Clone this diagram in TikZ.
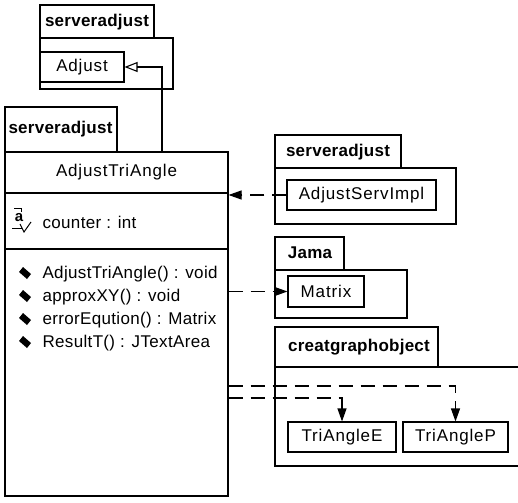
\documentclass[tikz,border=0pt]{standalone}
\usepackage{fontspec}
\setmainfont{Liberation Sans}
\newfontfamily\memberfont[LetterSpace=2]{Liberation Sans}
\newfontfamily\boxfont[LetterSpace=5]{Liberation Sans}
\newfontfamily\pkgfont[LetterSpace=1.5]{Liberation Sans}
\usetikzlibrary{arrows.meta}
\begin{document}
\begin{tikzpicture}[x=1pt,y=-1pt,
  line width=1.1pt,
  txt/.style={font=\memberfont\fontsize{17}{19}\selectfont, inner sep=0pt},
  pkgname/.style={font=\pkgfont\bfseries\fontsize{17}{19}\selectfont, inner sep=0pt},
  box/.style={draw, rectangle, inner sep=0pt, font=\boxfont\fontsize{17}{19}\selectfont},
  dep/.style={dash pattern=on 14pt off 8pt, -{Triangle[length=13pt,width=9pt]}},
  gen/.style={-{Triangle[open,length=13pt,width=10pt]}},
  bullet/.style={fill=black, draw=none}
]
\useasboundingbox (0,0) rectangle (518,502);

% package serveradjust holding Adjust
\draw (40,38) rectangle (154,5);
\node[pkgname] (pkgA) at (97,22) {serveradjust};
\draw (40,38) rectangle (173,89);
\node[box, minimum width=84pt, minimum height=30pt] (adj) at (82,67) {Adjust};

% package serveradjust holding AdjustTriAngle
\draw (5,152) rectangle (117,107);
\node[pkgname, anchor=west] (pkgB) at (8,129) {serveradjust};
\node[draw, rectangle, minimum width=223pt, minimum height=344pt, inner sep=0pt] (cls) at (116.5,324) {};
\draw (cls.west |- 0,193) -- (cls.east |- 0,193);
\draw (cls.west |- 0,249) -- (cls.east |- 0,249);
\node[box, draw=none] (clsname) at (116.5,172) {AdjustTriAngle};

% attribute with its visibility icon
\node[font=\bfseries\fontsize{15}{15}\selectfont, inner sep=0pt] (icon) at (19,218) {a};
\draw[line width=1pt] (14,209) -- (21,209) -- (21,212);
\draw[line width=1pt] (12,228) -- (22,228);
\draw[line width=1pt] (20,224) -- (24,232) -- (31,222);
\node[txt, anchor=west] (attr) at (42,222) {counter : int};

% operations
\foreach \yy/\name/\lbl in {274/op1/{AdjustTriAngle() : void},
                            297/op2/{approxXY() : void},
                            320/op3/{errorEqution() : Matrix},
                            343/op4/{ResultT() : JTextArea}} {
  \fill[bullet] (19,\yy-2) -- (23,\yy-7) -- (31,\yy) -- (27,\yy+5) -- cycle;
  \node[txt, anchor=west] (\name) at (42,\yy) {\lbl};
}

% package serveradjust holding AdjustServImpl
\draw (275,168) rectangle (401,135);
\node[pkgname] (pkgC) at (338,152) {serveradjust};
\draw (275,168) rectangle (456,224);
\node[box, minimum width=149pt, minimum height=30pt] (impl) at (361.5,195) {AdjustServImpl};

% package Jama holding Matrix
\draw (275,270) rectangle (344,237);
\node[pkgname] (pkgD) at (310,253) {Jama};
\draw (275,270) rectangle (407,318);
\node[box, minimum width=76pt, minimum height=31pt] (mat) at (326,291.5) {Matrix};

% package creatgraphobject holding TriAngleE and TriAngleP
\draw (275,367) rectangle (438,327);
\node[pkgname] (pkgE) at (359,347) {creatgraphobject};
\draw (518,367) -- (275,367) -- (275,466) -- (518,466);
\node[box, minimum width=108pt, minimum height=30pt] (trie) at (342,437) {TriAngleE};
\node[box, minimum width=105pt, minimum height=30pt] (trip) at (455.5,437) {TriAngleP};

% connectors
\coordinate (genx) at (162,0);
\coordinate (rowP) at (0,386);
\coordinate (rowE) at (0,398);
\draw[gen] (cls.north -| genx) |- (adj.east);
\draw[dep] (impl.west) -- (impl.west -| cls.east);
\draw[dep] (cls.east |- mat.west) -- (mat.west);
\draw[dep] (cls.east |- rowP) -| (trip.north);
\draw[dep] (cls.east |- rowE) -| (trie.north);
\end{tikzpicture}
\end{document}
